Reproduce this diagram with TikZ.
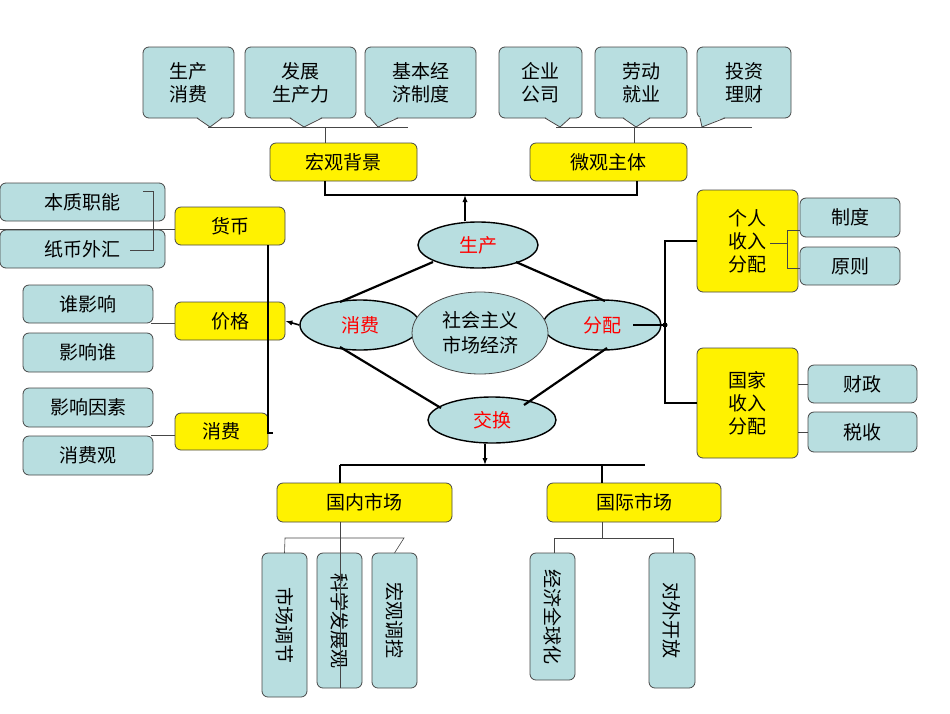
\documentclass[tikz,border=0pt]{standalone}
\usepackage{fontspec}
\setmainfont{Noto Sans CJK SC}
\usetikzlibrary{arrows.meta,shapes.geometric}
\definecolor{lb}{RGB}{184,222,224}
\definecolor{bd}{RGB}{70,70,70}
\tikzset{
  bbox/.style={draw=bd,fill=lb,rounded corners=6pt,line width=0.8pt,inner sep=0pt,font=\fontsize{19}{23}\selectfont,align=center},
  ybox/.style={draw=bd,fill=yellow,rounded corners=6pt,line width=0.8pt,inner sep=0pt,font=\fontsize{19}{23}\selectfont,align=center},
  ell/.style={draw=black,fill=lb,ellipse,line width=1.4pt,inner sep=0pt,font=\fontsize{19}{23}\selectfont,text=red},
  thin/.style={draw=bd,line width=0.6pt},
  thick/.style={draw=black,line width=2.2pt},
  mid/.style={draw=black,line width=1.6pt},
}
\newcommand{\mybox}[7]{% style,name,x1,y1,x2,y2,text
  \node[#1,minimum width=#5-#3,minimum height=#6-#4] (#2) at ({(#3+#5)/2},{(#4+#6)/2}) {#7};}
\newcommand{\vertbox}[6]{% name,x1,y1,x2,y2,text
  \node[bbox,rotate=-90,minimum width=#5-#3,minimum height=#4-#2] (#1) at ({(#2+#4)/2},{(#3+#5)/2}) {#6};}
\newcommand{\callout}[9]{% name,x1,y1,x2,y2,a,b,tip,text
  \mybox{bbox}{#1}{#2}{#3}{#4}{#5}{#9}
  \coordinate (#1t) at (#8);
  \fill[lb] (#6,#5-1.2) -- (#1t) -- (#7,#5-1.2) -- cycle;
  \draw[draw=bd,line width=0.8pt] (#6,#5) -- (#1t) -- (#7,#5);}
\begin{document}
\begin{tikzpicture}[x=1pt,y=-1pt]
\useasboundingbox (0,0) rectangle (950,713);
% top callouts
\callout{c1}{143}{47}{234}{118}{197}{222}{210,127}{生产\\消费}
\callout{c2}{245}{47}{356}{118}{290}{322}{304,127}{发展\\生产力}
\callout{c3}{365}{47}{476}{118}{370}{398}{378,127}{基本经\\济制度}
\callout{c4}{499}{47}{582}{118}{545}{570}{560,127}{企业\\公司}
\callout{c5}{595}{47}{687}{118}{623}{650}{636,127}{劳动\\就业}
\callout{c6}{697}{47}{791}{118}{700}{725}{702,127}{投资\\理财}
\coordinate (tl1) at (208,127); \coordinate (tl2) at (408,127);
\coordinate (tr1) at (556,127); \coordinate (tr2) at (752,127);
\draw[thin] (tl1) -- (tl2); \draw[thin] (tr1) -- (tr2);
\mybox{ybox}{hg}{270}{143}{417}{181}{宏观背景}
\mybox{ybox}{wg}{530}{143}{687}{181}{微观主体}
\draw[thin] (325,127) -- (hg.north -| 325,0);
\draw[thin] (634,127) -- (wg.north -| 634,0);
% center
\node[ell,minimum width=120,minimum height=46] (sc) at (478,245) {生产};
\node[ell,minimum width=120,minimum height=50] (xf) at (360,325) {消费};
\node[ell,minimum width=118,minimum height=50] (fp) at (602,325) {分配};
\node[ell,minimum width=128,minimum height=46] (jh) at (492,420) {交换};
\node[draw=bd,fill=lb,ellipse,line width=0.8pt,minimum width=136,minimum height=82,inner sep=0pt,align=center,font=\fontsize{19}{25}\selectfont] (sh) at (480,333) {社会主义\\市场经济};
\draw[thick] (hg.south -| 325,0) |- (465,195) -| (wg.south -| 637,0);
\draw[mid,-{Latex[length=7pt]}] (sc.north -| 465,0) -- (465,195);
\draw[thick] (340,302) -- (433,262);
\draw[thick] (516,262) -- (605,301);
\draw[thick] (340,347) -- (441,408);
\draw[thick] (607,348) -- (524,405);
% left
\mybox{ybox}{hb}{175}{207}{285}{245}{货币}
\mybox{ybox}{jg}{175}{302}{285}{340}{价格}
\mybox{ybox}{xfb}{175}{413}{268}{450}{消费}
\draw[mid,-{Latex[length=7pt]}] (xf.west) -- (jg.east);
\draw[thick] (hb.south -| 268,0) -- (268,433) -- (273,433);
\mybox{bbox}{bz}{0}{183}{165}{221}{本质职能}
\mybox{bbox}{zb}{0}{230}{165}{268}{纸币外汇}
\draw[thin] (bz.west |- 0,229) -- (hb.west |- 0,229);
\draw[thin] (143,191) -- (153,191) -- (153,250) -- (130,250);
\mybox{bbox}{sy}{23}{285}{153}{323}{谁影响}
\mybox{bbox}{ys}{23}{333}{153}{372}{影响谁}
\draw[thin] (151,323) -- (jg.west |- 0,323);
\mybox{bbox}{yx}{23}{388}{153}{427}{影响因素}
\mybox{bbox}{xg}{23}{436}{153}{475}{消费观}
\draw[thin] (151,435) -- (xfb.west |- 0,435);
% right
\mybox{ybox}{gr}{697}{190}{798}{292}{个人\\收入\\分配}
\mybox{ybox}{gj}{697}{348}{798}{458}{国家\\收入\\分配}
\draw[mid] (633,325) -- (665,325);
\fill (665,325) circle (2.5);
\draw[mid] (gr.west) -| (665,325) |- (gj.west);
\mybox{bbox}{zd}{800}{198}{900}{237}{制度}
\mybox{bbox}{yz}{800}{247}{900}{285}{原则}
\draw[thin] (zd.west |- 0,230) -- (787,230) -- (787,268) -- (yz.west |- 0,268);
\draw[thin] (770,243) -- (787,243);
\mybox{bbox}{cz}{808}{365}{917}{403}{财政}
\mybox{bbox}{ss}{808}{412}{917}{452}{税收}
\draw[thin] (gj.east |- cz.west) -- (cz.west);
\draw[thin] (gj.east |- ss.west) -- (ss.west);
% bottom
\draw[mid,-{Latex[length=7pt]}] (jh.south -| 485,0) -- (485,465);
\mybox{ybox}{gn}{277}{483}{452}{522}{国内市场}
\mybox{ybox}{gjs}{547}{483}{721}{522}{国际市场}
\draw[thick] (340,465) -- (645,465);
\draw[thick] (340,465) -- (gn.north -| 340,0);
\draw[thick] (602,465) -- (gjs.north -| 602,0);
\vertbox{sctj}{262}{553}{307}{697}{市场调节}
\vertbox{kx}{317}{553}{362}{688}{科学发展观}
\vertbox{hgtk}{372}{553}{417}{688}{宏观调控}
\draw[thin] (gn.south -| 340,0) -- (kx.east -| 340,0);
\draw[thin] (sctj.west |- 0,553) -- (285,538) -- (404,538) -- (hgtk.west |- 0,553);
\vertbox{jj}{530}{553}{575}{680}{经济全球化}
\vertbox{dw}{649}{553}{695}{688}{对外开放}
\draw[thin] (gjs.south -| 602,0) -- (602,538);
\draw[thin] (554,553) -- (554,538) -- (673,538) -- (673,553);
\end{tikzpicture}
\end{document}
